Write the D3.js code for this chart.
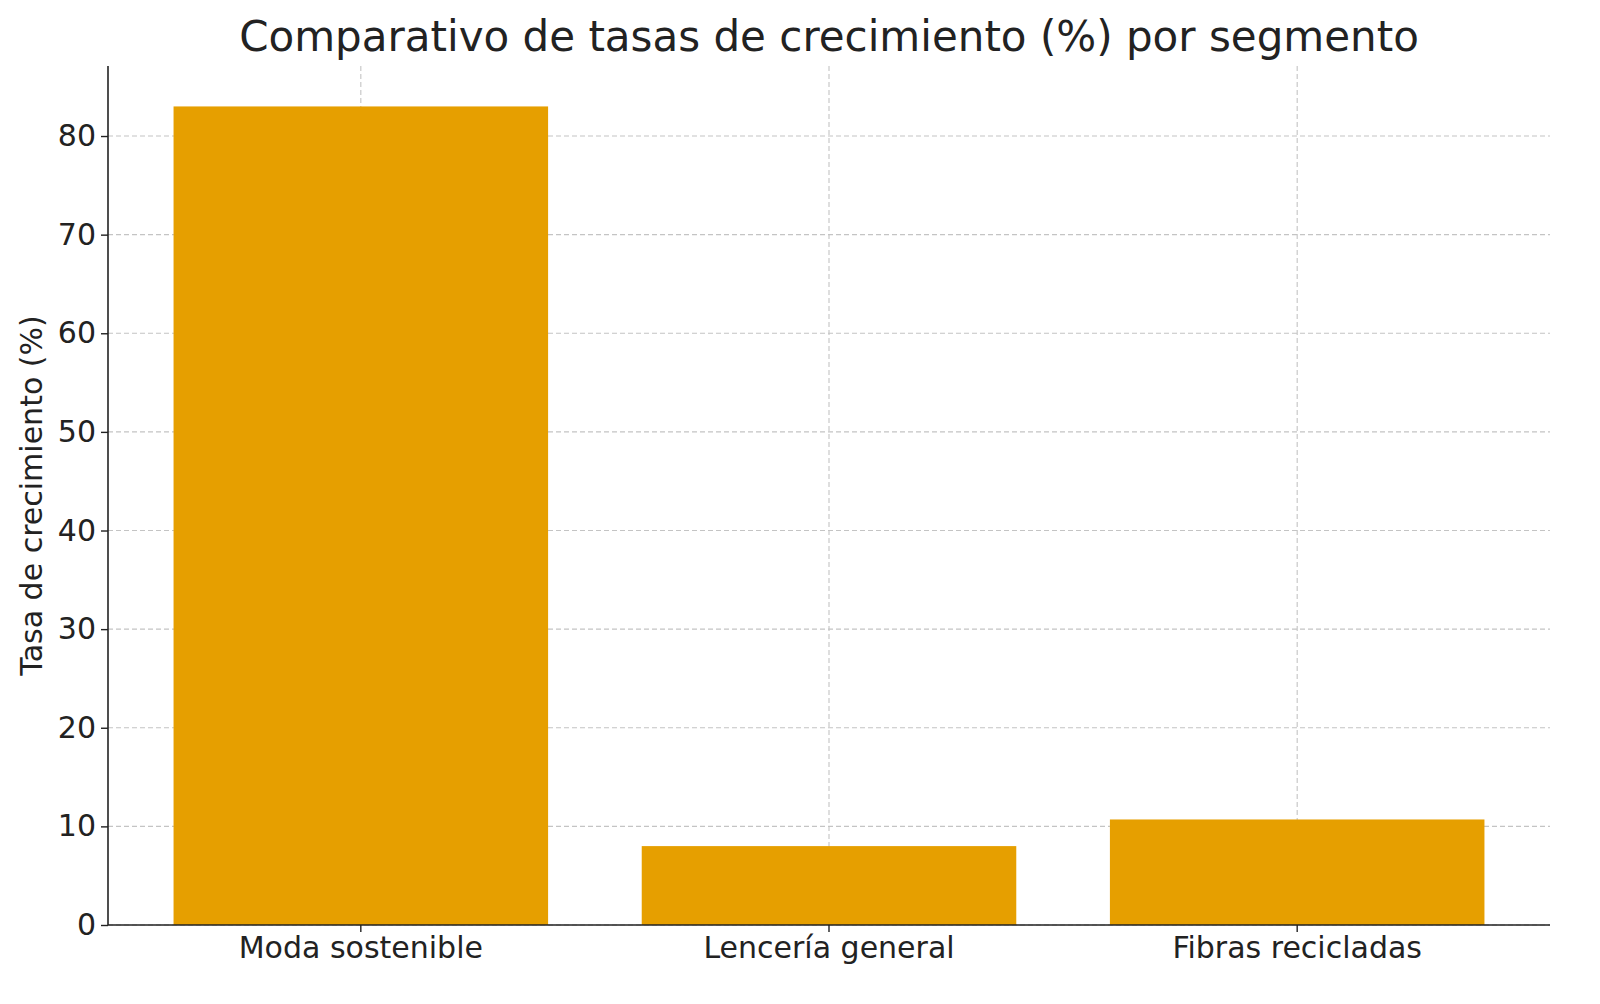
<!doctype html>
<html>
<head>
<meta charset="utf-8">
<script src="https://cdnjs.cloudflare.com/ajax/libs/d3/7.8.5/d3.min.js"></script>
<style>
  body { margin: 0; background: #fff; }
  text { font-family: "DejaVu Sans", sans-serif; fill: #222; }
</style>
</head>
<body>
<div id="chart"></div>
<script>
const segments = ['Moda sostenible', 'Lencería general', 'Fibras recicladas'];
const growth = [83.0, 8.0, 10.7];
const yTicks = [0, 10, 20, 30, 40, 50, 60, 70, 80];

const W = 1600, H = 1004;
const m = { left: 108, right: 1550, top: 66, bottom: 925 };

const svg = d3.select('#chart').append('svg')
  .attr('width', W).attr('height', H);

const x = d3.scaleBand().domain(segments)
  .range([m.left, m.right]).paddingInner(0.2).paddingOuter(0.14);
const y = d3.scaleLinear().domain([0, 87.1]).range([m.bottom, m.top]);

// grid
const grid = svg.append('g').attr('stroke', '#c4c4c4').attr('stroke-dasharray', '5,3').attr('stroke-width', 1.1);
grid.selectAll('.gy').data(yTicks).join('line')
  .attr('x1', m.left).attr('x2', m.right)
  .attr('y1', d => y(d)).attr('y2', d => y(d));
grid.selectAll('.gx').data(segments).join('line')
  .attr('x1', d => x(d) + x.bandwidth() / 2).attr('x2', d => x(d) + x.bandwidth() / 2)
  .attr('y1', m.top).attr('y2', m.bottom);

// bars
svg.selectAll('rect').data(segments).join('rect')
  .attr('x', d => x(d))
  .attr('width', x.bandwidth())
  .attr('y', (d, i) => y(growth[i]))
  .attr('height', (d, i) => y(0) - y(growth[i]))
  .attr('fill', '#E69F00');

// axes
const yAxis = svg.append('g').attr('transform', `translate(${m.left},0)`)
  .call(d3.axisLeft(y).tickValues(yTicks).tickSize(7).tickPadding(5));
const xAxis = svg.append('g').attr('transform', `translate(0,${m.bottom})`)
  .call(d3.axisBottom(x).tickSize(7).tickPadding(5));
[yAxis, xAxis].forEach(a => {
  a.select('.domain').attr('stroke', '#222').attr('stroke-width', 1.6);
  a.selectAll('.tick line').attr('stroke', '#222').attr('stroke-width', 1.4);
  a.selectAll('text').style('font-size', '30px').attr('fill', '#222');
});
yAxis.select('.domain').attr('d', `M0,${m.top}V${m.bottom}`);
xAxis.select('.domain').attr('d', `M${m.left},0H${m.right}`);

svg.append('text')
  .attr('x', (m.left + m.right) / 2).attr('y', 51)
  .attr('text-anchor', 'middle').style('font-size', '42px')
  .text('Comparativo de tasas de crecimiento (%) por segmento');

svg.append('text')
  .attr('transform', `translate(42,${(m.top + m.bottom) / 2}) rotate(-90)`)
  .attr('text-anchor', 'middle').style('font-size', '30px')
  .text('Tasa de crecimiento (%)');
</script>
</body>
</html>
